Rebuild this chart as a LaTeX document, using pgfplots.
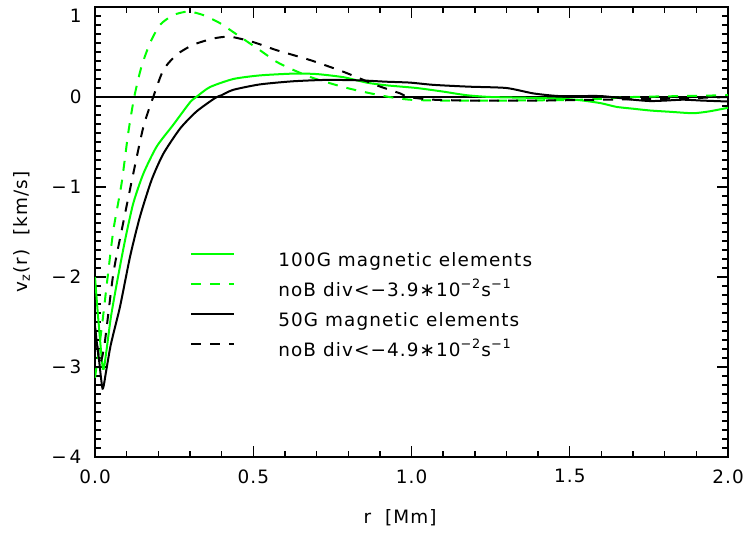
\documentclass[border=0pt]{standalone}
\usepackage{fontspec}
\setmainfont{DejaVu Sans}[LetterSpace=6]
\usepackage{pgfplots}
\pgfplotsset{compat=1.18}
\definecolor{idlgreen}{RGB}{0,255,0}
\begin{document}
\fontsize{9.2}{11}\selectfont
\begin{tikzpicture}
\begin{axis}[
  name=ax, at={(0,0)}, anchor=south west,
  scale only axis, width=316.5pt, height=225pt,
  xmin=0, xmax=2, ymin=-4, ymax=1,
  xtick={0,0.5,1,1.5,2}, xticklabels={0.0,0.5,1.0,1.5,2.0},
  ytick={-4,-3,-2,-1,0,1},
  yticklabels={−\,4,−\,3,−\,2,−\,1,0,\raisebox{-4.5pt}[\height][0pt]{1}},
  minor x tick num=4, minor y tick num=9,
  tick align=inside,
  major tick length=5.5pt, minor tick length=2.8pt,
  tick style={black, line width=0.7pt},
  axis line style={line width=1pt},
  tick label style={font=\fontsize{9.2}{11}\selectfont},
  xticklabel style={yshift=-3pt},
  yticklabel style={xshift=-3.5pt},
  xlabel={r\ \ [Mm]}, ylabel={v\textsubscript{z}(r)\ \ [km/s]},
  xlabel style={at={(axis description cs:0.482,-0.1356)}, anchor=center},
  ylabel style={at={(axis description cs:-0.1153,0.5)}, anchor=center},
  legend cell align=left,
  legend style={draw=none, fill=none, at={(axis cs:0.281,-1.674)}, anchor=north west,
    row sep=6pt, column sep=21.5pt,
    nodes={inner sep=0pt, text height=7pt, text depth=2pt}},
  legend image code/.code={\draw[#1] (0pt,3.3pt) -- (21.5pt,3.3pt);},
]
\addplot[black, line width=0.7pt, forget plot] coordinates {(0,0) (2,0)};

\addplot[idlgreen, line width=1pt, smooth, tension=0.4] coordinates {
(0.000,-2.00) (0.010,-2.45) (0.025,-3.02) (0.035,-2.85) (0.050,-2.45)
(0.070,-2.05) (0.095,-1.59) (0.121,-1.18) (0.153,-0.85) (0.195,-0.55)
(0.247,-0.31) (0.300,-0.06) (0.320,0.00) (0.363,0.11) (0.437,0.20)
(0.521,0.24) (0.627,0.26) (0.700,0.255) (0.785,0.22) (0.858,0.16)
(0.920,0.13) (1.016,0.10) (1.100,0.06) (1.174,0.02) (1.250,0.00)
(1.385,-0.01) (1.480,-0.02) (1.543,-0.04) (1.600,-0.07) (1.648,-0.11)
(1.700,-0.13) (1.754,-0.15) (1.820,-0.165) (1.890,-0.18) (1.940,-0.16)
(2.000,-0.12)};
\addlegendentry{100G magnetic elements}

\addplot[idlgreen, line width=1pt, smooth, tension=0.4, dash pattern=on 5pt off 4.5pt] coordinates {
(0.000,-3.12) (0.020,-2.60) (0.040,-2.00) (0.058,-1.48) (0.084,-0.96)
(0.105,-0.40) (0.124,0.00) (0.147,0.34) (0.174,0.60) (0.205,0.80)
(0.247,0.91) (0.295,0.95) (0.342,0.91) (0.395,0.82) (0.458,0.67)
(0.521,0.52) (0.574,0.39) (0.627,0.30) (0.690,0.21) (0.785,0.11)
(0.858,0.05) (0.930,0.00) (0.995,-0.03) (1.090,-0.04) (1.280,-0.04)
(1.540,-0.03) (1.700,0.00) (1.850,0.01) (2.000,0.02)};
\addlegendentry{noB div<−3.9∗10\textsuperscript{−2}s\textsuperscript{−1}}

\addplot[black, line width=1pt, smooth, tension=0.4] coordinates {
(0.000,-2.57) (0.012,-2.90) (0.024,-3.24) (0.035,-3.05) (0.050,-2.75)
(0.079,-2.33) (0.111,-1.77) (0.142,-1.33) (0.179,-0.92) (0.216,-0.63)
(0.269,-0.35) (0.321,-0.16) (0.380,-0.01) (0.400,0.02) (0.437,0.08)
(0.521,0.14) (0.627,0.175) (0.732,0.19) (0.837,0.185) (0.920,0.17)
(0.995,0.16) (1.069,0.135) (1.180,0.115) (1.300,0.10) (1.385,0.04)
(1.469,0.01) (1.600,0.01) (1.700,-0.03) (1.754,-0.045) (1.800,-0.04)
(1.859,-0.03) (1.920,-0.04) (2.000,-0.05)};
\addlegendentry{50G magnetic elements}

\addplot[black, line width=1pt, smooth, tension=0.4, dash pattern=on 5pt off 4.5pt] coordinates {
(0.000,-2.55) (0.015,-2.95) (0.030,-2.75) (0.058,-1.96) (0.089,-1.40)
(0.121,-0.85) (0.153,-0.33) (0.184,0.00) (0.216,0.30) (0.258,0.47)
(0.310,0.58) (0.374,0.65) (0.427,0.67) (0.500,0.61) (0.574,0.52)
(0.680,0.41) (0.785,0.28) (0.890,0.13) (0.964,0.04) (0.990,0.00)
(1.069,-0.03) (1.200,-0.04) (1.400,-0.04) (1.600,-0.03) (1.800,-0.02)
(2.000,0.00)};
\addlegendentry{noB div<−4.9∗10\textsuperscript{−2}s\textsuperscript{−1}}
\end{axis}
\pgfresetboundingbox
\path[use as bounding box] ([xshift=-47.5pt,yshift=-42.5pt]ax.south west) rectangle ([xshift=10pt,yshift=3.5pt]ax.north east);
\end{tikzpicture}
\end{document}
